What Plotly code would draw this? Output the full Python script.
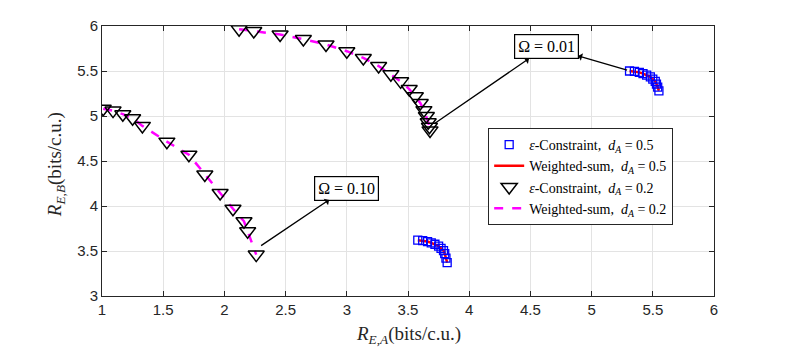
import plotly.graph_objects as go

# epsilon-constraint, d_A = 0.5 (two clusters: Omega = 0.10 and Omega = 0.01)
sq_lo_x = [3.58, 3.62, 3.66, 3.69, 3.72, 3.75, 3.77, 3.79, 3.80, 3.81, 3.82]
sq_lo_y = [3.62, 3.615, 3.605, 3.59, 3.575, 3.555, 3.53, 3.505, 3.47, 3.42, 3.37]
sq_hi_x = [5.31, 5.35, 5.39, 5.42, 5.45, 5.48, 5.50, 5.52, 5.53, 5.54, 5.55]
sq_hi_y = [5.50, 5.495, 5.485, 5.47, 5.455, 5.435, 5.41, 5.385, 5.355, 5.32, 5.28]

# epsilon-constraint, d_A = 0.2
tri_lo_x = [1.01, 1.09, 1.17, 1.25, 1.33, 1.53, 1.71, 1.84, 1.965, 2.07, 2.16, 2.19, 2.26]
tri_lo_y = [5.08, 5.06, 5.02, 4.975, 4.89, 4.715, 4.57, 4.35, 4.145, 3.97, 3.83, 3.72, 3.46]
tri_hi_x = [2.12, 2.24, 2.455, 2.645, 2.83, 3.00, 3.135, 3.26, 3.36, 3.44, 3.51, 3.56,
            3.60, 3.63, 3.65, 3.665, 3.675, 3.68]
tri_hi_y = [5.965, 5.945, 5.905, 5.855, 5.795, 5.72, 5.645, 5.555, 5.465, 5.385, 5.30,
            5.22, 5.145, 5.065, 5.00, 4.93, 4.88, 4.84]

xticks = [1, 1.5, 2, 2.5, 3, 3.5, 4, 4.5, 5, 5.5, 6]
yticks = [3, 3.5, 4, 4.5, 5, 5.5, 6]

serif = "Liberation Serif"
sans = "Liberation Sans"

fig = go.Figure()

# weighted-sum lines
fig.add_trace(go.Scatter(x=sq_lo_x + [None] + sq_hi_x, y=sq_lo_y + [None] + sq_hi_y,
                         mode="lines", line=dict(color="red", width=2.5), showlegend=False))
fig.add_trace(go.Scatter(x=tri_lo_x + [None] + tri_hi_x, y=tri_lo_y + [None] + tri_hi_y,
                         mode="lines", line=dict(color="#ff00ff", width=2.5, dash="dash"),
                         showlegend=False))

# markers
fig.add_trace(go.Scatter(x=sq_lo_x + [None] + sq_hi_x, y=sq_lo_y + [None] + sq_hi_y,
                         mode="markers", name="<i>ε</i>-Constraint,  <i>d<sub>A</sub></i> = 0.5",
                         marker=dict(symbol="square-open", size=8, color="blue",
                                     line=dict(width=1.3))))
fig.add_trace(go.Scatter(x=[None], y=[None], mode="lines",
                         name="Weighted-sum,  <i>d<sub>A</sub></i> = 0.5",
                         line=dict(color="red", width=2.5)))
fig.add_trace(go.Scatter(x=tri_lo_x + [None] + tri_hi_x, y=tri_lo_y + [None] + tri_hi_y,
                         mode="markers", name="<i>ε</i>-Constraint,  <i>d<sub>A</sub></i> = 0.2",
                         marker=dict(symbol="triangle-down-open", size=14, color="black",
                                     line=dict(width=1.5))))
fig.add_trace(go.Scatter(x=[None], y=[None], mode="lines",
                         name="Weighted-sum,  <i>d<sub>A</sub></i> = 0.2",
                         line=dict(color="#ff00ff", width=2.5, dash="dash")))

# annotations (arrow head at the text box)
box_lo = (3.0, 4.2)
box_hi = (4.63, 5.77)
for (tx, ty), (px, py), label in [
    (box_lo, (2.30, 3.56), "Ω = 0.10"),
    (box_hi, (3.72, 4.92), "Ω = 0.01"),
    (box_hi, (5.29, 5.51), "Ω = 0.01"),
]:
    fig.add_annotation(x=px, y=py, ax=tx, ay=ty, axref="x", ayref="y",
                       text=label, showarrow=True, arrowside="start",
                       arrowhead=2, arrowsize=1.2, arrowwidth=1.3, arrowcolor="black",
                       bordercolor="black", borderwidth=1.2, borderpad=3, bgcolor="white",
                       font=dict(family=serif, size=16, color="black"))

# axis titles
fig.add_annotation(x=0.5, y=-0.145, xref="paper", yref="paper", showarrow=False,
                   xanchor="center", yanchor="middle",
                   text="<i>R</i><sub><i>E</i>,<i>A</i></sub>(bits/c.u.)",
                   font=dict(family=serif, size=19, color="#262626"))
fig.add_annotation(x=-0.075, y=0.485, xref="paper", yref="paper", showarrow=False,
                   xanchor="center", yanchor="middle", textangle=-90,
                   text="<i>R</i><sub><i>E</i>,<i>B</i></sub>(bits/c.u.)",
                   font=dict(family=serif, size=19, color="#262626"))

axis_common = dict(showline=True, linecolor="#262626", linewidth=1, mirror="ticks",
                   ticks="inside", ticklen=5, tickcolor="#262626",
                   showgrid=True, gridcolor="#e3e3e3", gridwidth=1, zeroline=False,
                   automargin=False,
                   tickfont=dict(family=sans, size=15, color="#262626"))

fig.update_xaxes(range=[1, 6], tickvals=xticks, ticktext=[f"{t:g}" for t in xticks],
                 **axis_common)
fig.update_yaxes(range=[3, 6], tickvals=yticks, ticktext=[f"{t:g}" for t in yticks],
                 **axis_common)

fig.update_layout(
    width=789, height=350,
    margin=dict(l=94, r=83, t=18, b=62),
    paper_bgcolor="white", plot_bgcolor="white",
    legend=dict(x=0.631, y=0.622, xanchor="left", yanchor="top",
                bgcolor="white", bordercolor="#262626", borderwidth=1,
                font=dict(family=serif, size=14, color="black"),
                tracegroupgap=0, itemwidth=30),
)

fig.write_html("out.html")
